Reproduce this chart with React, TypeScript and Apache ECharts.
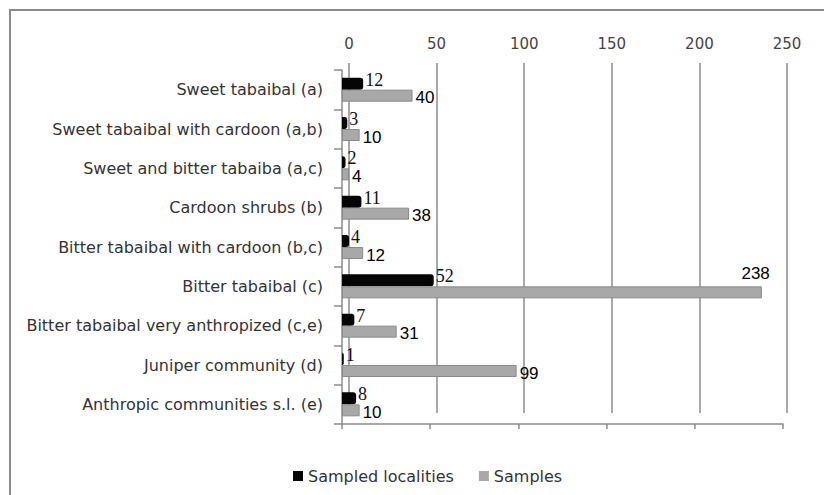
import React, { useEffect, useRef } from "react";
import * as echarts from "echarts";

const categories = [
  "Sweet tabaibal (a)",
  "Sweet tabaibal with cardoon (a,b)",
  "Sweet and bitter tabaiba (a,c)",
  "Cardoon shrubs (b)",
  "Bitter tabaibal with cardoon (b,c)",
  "Bitter tabaibal (c)",
  "Bitter tabaibal very anthropized (c,e)",
  "Juniper community (d)",
  "Anthropic communities s.l. (e)",
];
const sampledLocalities = [12, 3, 2, 11, 4, 52, 7, 1, 8];
const samples = [40, 10, 4, 38, 12, 238, 31, 99, 10];
const seriesNames = ["Sampled localities", "Samples"];
const axisMin = 0;
const axisMax = 250;
const axisStep = 50;

export default function App() {
  const ref = useRef<HTMLDivElement>(null);
  useEffect(() => {
    if (!ref.current) return;
    const chart = echarts.init(ref.current, undefined, { renderer: "svg" });
    const wide = "'DejaVu Sans', sans-serif";
    const sans = "Arial, 'Liberation Sans', sans-serif";
    const serif = "'Times New Roman', 'Liberation Serif', serif";
    chart.setOption({
      animation: false,
      backgroundColor: "#ffffff",
      graphic: [
        {
          type: "rect",
          shape: { x: 10, y: 10, width: 830, height: 500 },
          style: { fill: "none", stroke: "#8a8a8a", lineWidth: 2 },
          silent: true,
        },
      ],
      legend: {
        data: seriesNames,
        left: 288,
        top: 463,
        itemWidth: 10,
        itemHeight: 10,
        itemGap: 25,
        icon: "rect",
        itemStyle: { borderWidth: 0 },
        textStyle: { fontFamily: wide, fontSize: 16, color: "#333" },
      },
      grid: [
        { left: 342, right: 41, top: 70, bottom: 71 },
        { left: 349, right: 37, top: 63, bottom: 82 },
      ],
      xAxis: [
        {
          gridIndex: 0,
          type: "value",
          position: "bottom",
          min: axisMin,
          max: axisMax,
          interval: axisStep,
          axisLine: { show: true, lineStyle: { color: "#8c8c8c", width: 1.5 } },
          axisTick: { show: true, length: 5, lineStyle: { color: "#8c8c8c", width: 1.5 } },
          axisLabel: { show: false },
          splitLine: { show: false },
        },
        {
          gridIndex: 1,
          type: "value",
          position: "top",
          min: axisMin,
          max: axisMax,
          interval: axisStep,
          axisLine: { show: false },
          axisTick: { show: false },
          axisLabel: { show: true, color: "#444", fontFamily: wide, fontSize: 15, margin: 12 },
          splitLine: { show: true, lineStyle: { color: "#8c8c8c", width: 1.5 } },
        },
      ],
      yAxis: [
        {
          gridIndex: 0,
          type: "category",
          data: categories,
          inverse: true,
          axisLine: { show: true, lineStyle: { color: "#8c8c8c", width: 1.5 } },
          axisTick: { show: true, length: 8, lineStyle: { color: "#8c8c8c", width: 1.5 } },
          axisLabel: { color: "#333", fontFamily: wide, fontSize: 16, margin: 19 },
        },
        {
          gridIndex: 1,
          type: "value",
          show: false,
        },
      ],
      series: [
        {
          name: seriesNames[0],
          type: "bar",
          xAxisIndex: 0,
          yAxisIndex: 0,
          data: sampledLocalities,
          barWidth: 12,
          barGap: "0%",
          itemStyle: { color: "#050505", borderRadius: [0, 3, 3, 0] },
          label: {
            show: true,
            position: "right",
            distance: 2,
            offset: [0, -4],
            fontFamily: serif,
            fontSize: 18,
            color: "#111",
          },
        },
        {
          name: seriesNames[1],
          type: "bar",
          xAxisIndex: 0,
          yAxisIndex: 0,
          data: samples.map((v) =>
            v > 200
              ? {
                  value: v,
                  label: {
                    position: ["100%", -4],
                    align: "right",
                    verticalAlign: "bottom",
                    offset: [8, 0],
                  },
                }
              : v
          ),
          barWidth: 12,
          itemStyle: { color: "#a8a8a8", borderColor: "#8a8a8a", borderWidth: 1 },
          label: {
            show: true,
            position: "right",
            distance: 3,
            offset: [0, 2],
            fontFamily: sans,
            fontSize: 17,
            color: "#000",
          },
        },
      ],
    });
    return () => chart.dispose();
  }, []);
  return (
    <div
      ref={ref}
      style={{ position: "fixed", left: 0, top: 0, width: 824, height: 495, background: "#fff" }}
    />
  );
}
